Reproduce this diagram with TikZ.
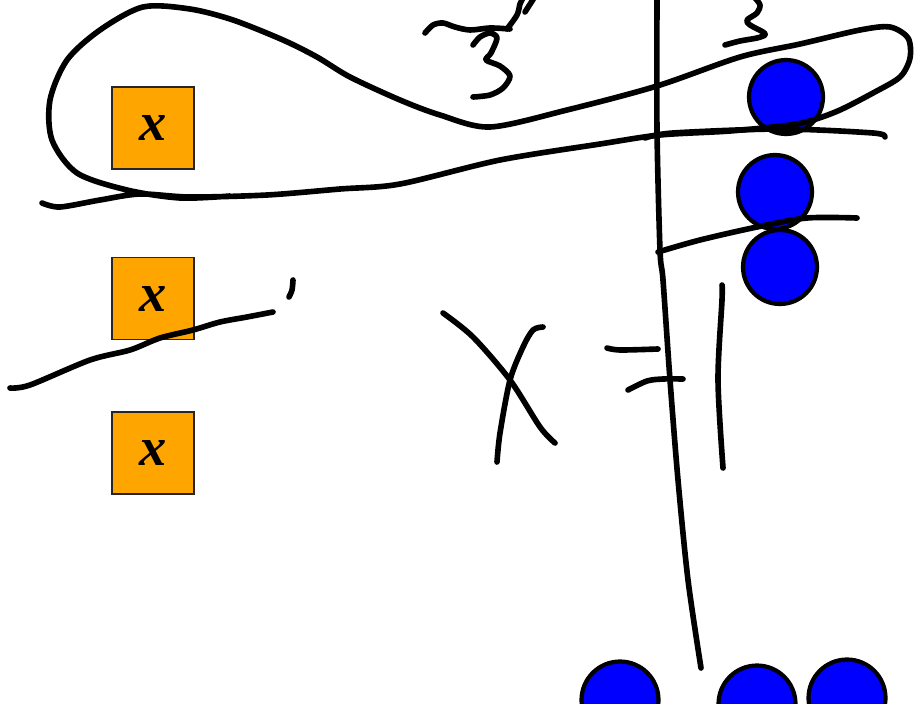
\documentclass[tikz,border=0pt]{standalone}
\usepackage{fontspec}
\setmainfont{Liberation Serif}
\usetikzlibrary{positioning}
\definecolor{tileorange}{HTML}{FFA500}

\begin{document}
\begin{tikzpicture}[x=0.02cm, y=-0.02cm]
        \tikzstyle{tile} = [rectangle, minimum size=1.64cm, inner sep=0pt, draw=black!85, line width=0.9pt, fill=tileorange, font=\fontsize{31}{31}\selectfont\bfseries\itshape]
        \tikzstyle{bead} = [circle, minimum size=1.48cm, draw=black, line width=2.4pt, fill=blue]
        \tikzstyle{ink} = [line width=3.2pt, line cap=round, line join=round]

        \clip (0,0) rectangle (915,703);

        % Tiles
        \node (t1) [tile] at (153,128) {x};
        \node (t2) [tile, below=1.74cm of t1] {x};
        \node (t3) [tile, below=1.42cm of t2] {x};

        % Beads
        \node (b1) [bead] at (786,97) {}; \node (b2) [bead] at (775,192) {}; \node (b3) [bead] at (780,267) {};
        \foreach \i/\x/\y in {4/620/700, 5/757/704, 6/847/698} { \node (b\i) [bead, minimum size=1.54cm] at (\x,\y) {}; }

        % Divider
        \draw [ink] plot [smooth] coordinates {(657,0) (657,130) (660,250) (663,280) (670,380) (678,480) (688,580) (701,668)};

        % Loop
        \draw [ink] plot [smooth] coordinates {(42,203) (60,207) (100,200) (140,194) (190,197) (267,195) (340,189) (400,184) (500,160) (600,144) (660,135) (730,131) (790,125) (813,120) (840,110) (873,93) (900,77) (910,58) (908,38) (890,27) (860,30) (800,44) (740,57) (657,86) (567,110) (490,127) (440,115) (400,100) (350,77) (317,57) (283,40) (233,20) (190,9) (143,7) (100,30) (67,60) (50,100) (52,140) (77,173) (127,190) (180,198) (230,196)};
        \draw [ink] plot [smooth] coordinates {(645,138) (673,133) (780,129) (873,133) (885,137)};
        \draw [ink] plot [smooth] coordinates {(658,252) (700,240) (757,227) (807,218) (857,218)};

        % Slanted stroke
        \draw [ink] plot [smooth] coordinates {(10,388) (30,385) (90,360) (130,350) (160,338) (193,330) (220,322) (247,317) (273,312)};
        \draw [ink] plot [smooth] coordinates {(293,280) (292,290) (289,297)};

        % Top scribbles
        \draw [ink] plot [smooth] coordinates {(425,33) (433,25) (443,23) (455,27) (470,30) (490,28) (510,29)};
        \draw [ink] plot [smooth] coordinates {(507,29) (517,15) (520,4) (523,-2)};
        \draw [ink] (525,12) -- (534,-2);
        \draw [ink] plot [smooth] coordinates {(473,45) (480,37) (490,33) (497,38) (491,53) (486,60) (500,66) (510,76) (503,88) (490,95) (473,97)};
        \draw [ink] plot [smooth] coordinates {(755,-2) (760,5) (757,13) (747,20) (750,25) (763,32) (765,35) (757,38) (740,41) (725,45)};

        % x = 1
        \draw [ink] plot [smooth] coordinates {(443,313) (473,337) (510,380) (540,427) (555,443)};
        \draw [ink] plot [smooth] coordinates {(543,327) (533,330) (523,347) (510,380) (500,433) (497,462)};
        \draw [ink] plot [smooth] coordinates {(607,348) (620,350) (658,349)};
        \draw [ink] plot [smooth] coordinates {(628,390) (647,381) (663,379) (683,379)};
        \draw [ink] plot [smooth] coordinates {(722,285) (722,300) (718,380) (723,468)};
\end{tikzpicture}
\end{document}
